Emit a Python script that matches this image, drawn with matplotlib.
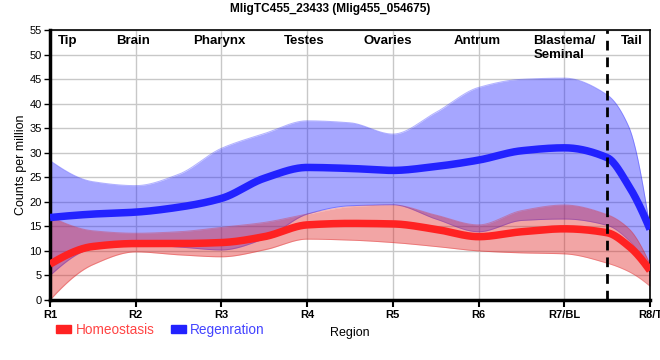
import numpy as np
import matplotlib
matplotlib.use("Agg")
import matplotlib.pyplot as plt
from matplotlib.patches import Patch

plt.rcParams['font.family'] = ['Liberation Sans', 'DejaVu Sans']

# sample positions along the body (1 = R1 ... 8 = R8/T)
XPOS = [1, 1.5, 2, 2.5, 3, 3.5, 4, 4.5, 5, 5.5, 6, 6.5, 7, 7.5, 7.75, 8]

homeo_mid = [7.3, 10.9, 11.5, 11.5, 11.7, 12.9, 15.3, 15.6, 15.5, 14.4, 12.9, 13.9, 14.5, 13.7, 11.0, 6.0]
homeo_lo = [0.0, 7.2, 9.8, 9.2, 8.8, 10.2, 12.4, 12.2, 11.7, 10.9, 10.0, 9.6, 9.4, 7.5, 5.8, 2.8]
homeo_hi = [17.0, 14.1, 13.6, 13.9, 14.8, 15.8, 17.5, 19.0, 19.35, 17.3, 15.3, 18.2, 19.35, 17.4, 14.6, 7.3]

regen_mid = [16.8, 17.5, 17.9, 18.9, 20.7, 24.8, 27.0, 26.8, 26.4, 27.2, 28.5, 30.4, 31.0, 29.0, 23.3, 14.4]
regen_lo = [5.0, 10.5, 11.3, 10.8, 10.2, 12.5, 17.5, 19.2, 19.4, 16.5, 13.9, 16.2, 16.5, 15.2, 12.2, 5.8]
regen_hi = [28.4, 24.1, 23.3, 25.6, 30.9, 33.9, 36.5, 36.1, 33.8, 38.2, 43.3, 44.95, 45.2, 41.8, 35.4, 14.6]

TICK_LABELS = ["R1", "R2", "R3", "R4", "R5", "R6", "R7/BL", "R8/T"]
REGIONS = ["Tip", "Brain", "Pharynx", "Testes", "Ovaries", "Antrum", "Blastema/\nSeminal", "Tail"]
REGION_X = [1.21, 1.97, 2.98, 3.96, 4.94, 5.98, 6.64, 7.79]
TAIL_CUT = 7.5

RED = "#ff2222"
BLUE = "#2222ff"


def pchip(x, y, xs):
    """Monotone cubic (PCHIP) through the read points."""
    x = np.asarray(x, float)
    y = np.asarray(y, float)
    h = np.diff(x)
    d = np.diff(y) / h
    m = np.zeros_like(y)
    for k in range(1, len(y) - 1):
        if d[k - 1] * d[k] > 0:
            w1 = 2 * h[k] + h[k - 1]
            w2 = h[k] + 2 * h[k - 1]
            m[k] = (w1 + w2) / (w1 / d[k - 1] + w2 / d[k])

    def end(h0, h1, d0, d1):
        s = ((2 * h0 + h1) * d0 - h0 * d1) / (h0 + h1)
        if np.sign(s) != np.sign(d0):
            return 0.0
        if np.sign(d0) != np.sign(d1) and abs(s) > 3 * abs(d0):
            return 3 * d0
        return s

    m[0] = end(h[0], h[1], d[0], d[1])
    m[-1] = end(h[-1], h[-2], d[-1], d[-2])
    i = np.clip(np.searchsorted(x, xs) - 1, 0, len(h) - 1)
    t = (xs - x[i]) / h[i]
    h00 = 2 * t**3 - 3 * t**2 + 1
    h10 = t**3 - 2 * t**2 + t
    h01 = -2 * t**3 + 3 * t**2
    h11 = t**3 - t**2
    return h00 * y[i] + h10 * h[i] * m[i] + h01 * y[i + 1] + h11 * h[i] * m[i + 1]


xs = np.linspace(XPOS[0], XPOS[-1], 800)

fig = plt.figure(figsize=(6.6, 3.6), dpi=100)
ax = fig.add_axes([50 / 660, 60 / 360, 600 / 660, 270 / 360])

# bands: blue first, red laid over it so the overlap turns purple
for lo, hi, col in [(regen_lo, regen_hi, "#2222ff"), (homeo_lo, homeo_hi, "#e02020")]:
    ylo, yhi = pchip(XPOS, lo, xs), pchip(XPOS, hi, xs)
    ax.fill_between(xs, ylo, yhi, color=col, alpha=0.4, lw=0, zorder=2)
    ax.plot(xs, ylo, color=col, alpha=0.35, lw=0.7, zorder=2)
    ax.plot(xs, yhi, color=col, alpha=0.35, lw=0.7, zorder=2)

ax.plot(xs, pchip(XPOS, homeo_mid, xs), color=RED, lw=5.4, zorder=4,
        solid_capstyle='butt')
ax.plot(xs, pchip(XPOS, regen_mid, xs), color=BLUE, lw=5.4, zorder=5,
        solid_capstyle='butt')

ax.axvline(TAIL_CUT, color='black', lw=2, ls=(0, (3.5, 2.5)), zorder=6)

for name, xp in zip(REGIONS, REGION_X):
    ha = 'left' if '\n' in name else 'center'
    ax.text(xp, 54.0, name, ha=ha, va='top', fontsize=9.5, fontweight='bold',
            linespacing=1.2, zorder=7)

ax.set_xlim(1, 8)
ax.set_ylim(0, 55)
ax.set_xticks(range(1, 9))
ax.set_xticklabels(TICK_LABELS, fontsize=8, fontweight='bold')
ax.set_yticks(range(0, 56, 5))
ax.tick_params(axis='y', labelsize=8, length=4, width=1, pad=2)
ax.tick_params(axis='x', length=5, width=1.5, pad=2)
ax.grid(True, color='#c8c8c8', lw=1)
ax.set_axisbelow(True)

for side in ['left', 'bottom']:
    ax.spines[side].set_linewidth(2.5)
for side in ['top', 'right']:
    ax.spines[side].set_linewidth(1.2)

ax.set_ylabel("Counts per million", fontsize=9, labelpad=2)
ax.set_xlabel("Region", fontsize=9, labelpad=5)
fig.text(330 / 660, 1 - 9 / 360, "MligTC455_23433 (Mlig455_054675)",
         ha='center', va='center', fontsize=8.6, fontweight='bold')

handles = [Patch(color=RED), Patch(color=BLUE)]
leg = fig.legend(handles, ["Homeostasis", "Regenration"], ncol=2,
                 loc='center left', bbox_to_anchor=(51 / 660, 1 - 330 / 360),
                 frameon=False, fontsize=9.8, handlelength=1.1, handleheight=0.45,
                 handletextpad=0.3, columnspacing=1.2, borderaxespad=0)
for txt, col in zip(leg.get_texts(), ["#ff4444", "#4444ff"]):
    txt.set_color(col)

fig.savefig("out.png", dpi=100)
